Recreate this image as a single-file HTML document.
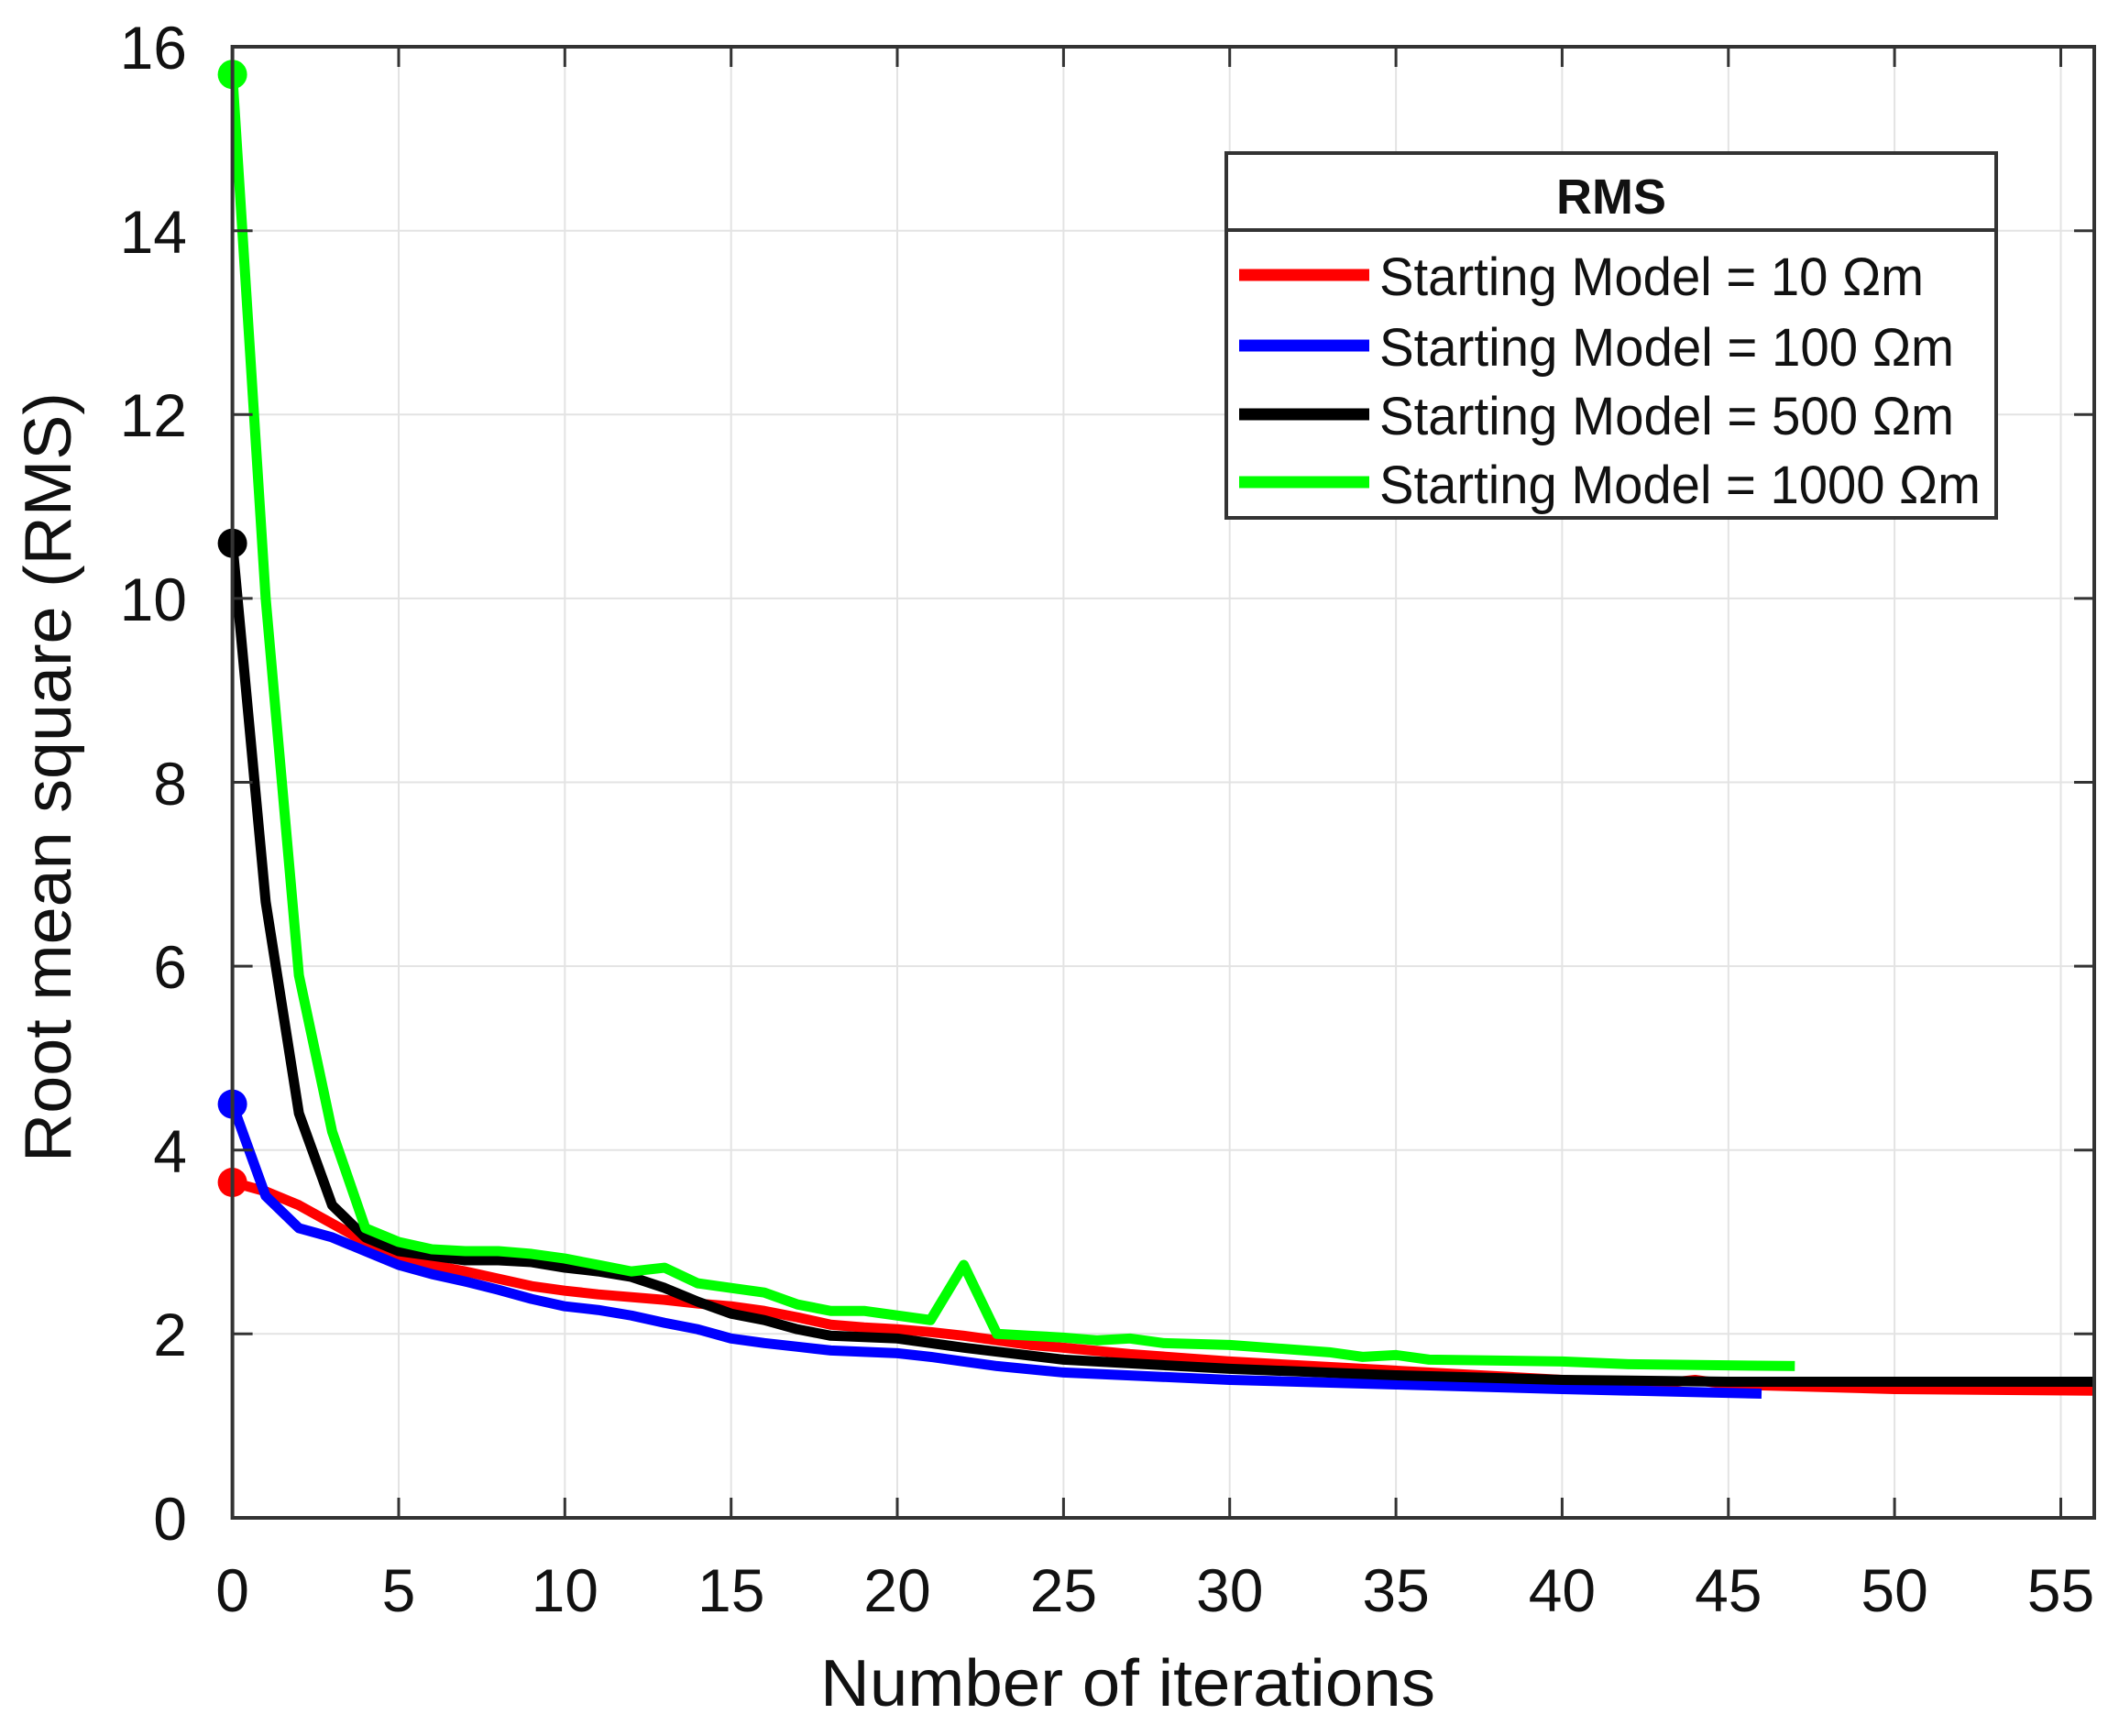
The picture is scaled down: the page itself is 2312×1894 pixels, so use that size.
<!DOCTYPE html>
<html><head><meta charset="utf-8"><style>html,body{margin:0;padding:0;background:#fff}svg{display:block}</style></head>
<body>
<svg width="2312" height="1894" viewBox="0 0 2312 1894" xmlns="http://www.w3.org/2000/svg" font-family="Liberation Sans, Arial, sans-serif">
<defs><clipPath id="c"><rect x="253.6" y="51" width="2031.4" height="1605"/></clipPath></defs>
<rect width="2312" height="1894" fill="#fff"/>
<g stroke="#e3e3e3" stroke-width="2">
<line x1="435" y1="51" x2="435" y2="1656"/><line x1="616.3" y1="51" x2="616.3" y2="1656"/><line x1="797.7" y1="51" x2="797.7" y2="1656"/><line x1="979" y1="51" x2="979" y2="1656"/><line x1="1160.4" y1="51" x2="1160.4" y2="1656"/><line x1="1341.7" y1="51" x2="1341.7" y2="1656"/><line x1="1523.1" y1="51" x2="1523.1" y2="1656"/><line x1="1704.4" y1="51" x2="1704.4" y2="1656"/><line x1="1885.8" y1="51" x2="1885.8" y2="1656"/><line x1="2067.1" y1="51" x2="2067.1" y2="1656"/><line x1="2248.5" y1="51" x2="2248.5" y2="1656"/>
<line x1="253.6" y1="1455.3" x2="2285" y2="1455.3"/><line x1="253.6" y1="1254.7" x2="2285" y2="1254.7"/><line x1="253.6" y1="1054.1" x2="2285" y2="1054.1"/><line x1="253.6" y1="853.5" x2="2285" y2="853.5"/><line x1="253.6" y1="652.9" x2="2285" y2="652.9"/><line x1="253.6" y1="452.3" x2="2285" y2="452.3"/><line x1="253.6" y1="251.7" x2="2285" y2="251.7"/>
</g>
<g clip-path="url(#c)" fill="none" stroke-width="11" stroke-linejoin="round">
<g transform="translate(253.6,1655.9) scale(36.27,-100.3)">
<polyline vector-effect="non-scaling-stroke" stroke="#ff0000" points="0,3.65 1,3.55 2,3.4 3,3.2 4,3.0 5,2.85 6,2.75 7,2.68 8,2.6 9,2.52 10,2.47 11,2.43 12,2.4 13,2.37 14,2.33 15,2.3 16,2.25 17,2.18 18,2.1 19,2.07 20,2.05 21,2.02 22,1.98 23,1.93 24,1.88 25,1.85 27,1.78 30,1.7 35,1.6 40,1.5 43,1.46 44,1.5 45,1.45 50,1.4 57,1.38"/>
<polyline vector-effect="non-scaling-stroke" stroke="#0000ff" points="0,4.5 1,3.5 2,3.15 3,3.05 4,2.9 5,2.75 6,2.65 7,2.57 8,2.48 9,2.38 10,2.3 11,2.26 12,2.2 13,2.12 14,2.05 15,1.95 16,1.9 17,1.86 18,1.82 20,1.79 21,1.75 22,1.7 23,1.65 25,1.58 30,1.5 35,1.45 40,1.4 46,1.35"/>
<polyline vector-effect="non-scaling-stroke" stroke="#000000" points="0,10.6 1,6.7 2,4.4 3,3.4 4,3.05 5,2.9 6,2.85 7,2.8 8,2.8 9,2.78 10,2.72 11,2.68 12,2.62 13,2.5 14,2.35 15,2.22 16,2.15 17,2.05 18,1.98 20,1.95 22,1.85 25,1.72 30,1.62 35,1.55 40,1.5 45,1.48 57,1.48"/>
<polyline vector-effect="non-scaling-stroke" stroke="#00ff00" points="0,15.7 1,10 2,5.9 3,4.2 4,3.15 5,3.0 6,2.92 7,2.9 8,2.9 9,2.87 10,2.82 11,2.75 12,2.68 13,2.72 14,2.55 15,2.5 16,2.45 17,2.32 18,2.25 19,2.25 20,2.2 21,2.15 22,2.75 23,2.0 24,1.98 25,1.96 26,1.93 27,1.95 28,1.9 30,1.88 33,1.8 34,1.75 35,1.77 36,1.72 40,1.7 42,1.67 47,1.65"/>
</g>
</g>
<circle cx="253.6" cy="1290" r="16" fill="#ff0000"/>
<circle cx="253.6" cy="1204.6" r="16" fill="#0000ff"/>
<circle cx="253.6" cy="592.7" r="16" fill="#000000"/>
<circle cx="253.6" cy="81.2" r="16" fill="#00ff00"/>
<rect x="253.6" y="51" width="2031.4" height="1605" fill="none" stroke="#333" stroke-width="4"/>
<g stroke="#333" stroke-width="3">
<path d="M435 1656v-22M616.3 1656v-22M797.7 1656v-22M979 1656v-22M1160.4 1656v-22M1341.7 1656v-22M1523.1 1656v-22M1704.4 1656v-22M1885.8 1656v-22M2067.1 1656v-22M2248.5 1656v-22"/>
<path d="M435 51v22M616.3 51v22M797.7 51v22M979 51v22M1160.4 51v22M1341.7 51v22M1523.1 51v22M1704.4 51v22M1885.8 51v22M2067.1 51v22M2248.5 51v22"/>
<path d="M253.6 1455.3h22M253.6 1254.7h22M253.6 1054.1h22M253.6 853.5h22M253.6 652.9h22M253.6 452.3h22M253.6 251.7h22"/>
<path d="M2285 1455.3h-22M2285 1254.7h-22M2285 1054.1h-22M2285 853.5h-22M2285 652.9h-22M2285 452.3h-22M2285 251.7h-22"/>
</g>
<g font-size="66" fill="#111" text-anchor="middle" font-family="Liberation Sans Narrow, Liberation Sans, sans-serif">
<text x="253.6" y="1758">0</text><text x="435" y="1758">5</text><text x="616.3" y="1758">10</text><text x="797.7" y="1758">15</text><text x="979" y="1758">20</text><text x="1160.4" y="1758">25</text><text x="1341.7" y="1758">30</text><text x="1523.1" y="1758">35</text><text x="1704.4" y="1758">40</text><text x="1885.8" y="1758">45</text><text x="2067.1" y="1758">50</text><text x="2248.5" y="1758">55</text>
</g>
<g font-size="66" fill="#111" text-anchor="end" font-family="Liberation Sans Narrow, Liberation Sans, sans-serif">
<text x="204" y="1680">0</text><text x="204" y="1479">2</text><text x="204" y="1279">4</text><text x="204" y="1078">6</text><text x="204" y="878">8</text><text x="204" y="677">10</text><text x="204" y="476">12</text><text x="204" y="276">14</text><text x="204" y="75">16</text>
</g>
<text x="895" y="1861" font-size="72" fill="#111" textLength="671" lengthAdjust="spacingAndGlyphs">Number of iterations</text>
<text transform="translate(77,848) rotate(-90)" x="-420" y="0" font-size="72" fill="#111" textLength="840" lengthAdjust="spacingAndGlyphs">Root mean square (RMS)</text>
<rect x="1338" y="167" width="840" height="398" fill="#fff" stroke="#333" stroke-width="4"/>
<line x1="1338" y1="251" x2="2178" y2="251" stroke="#333" stroke-width="4"/>
<text x="1758" y="233" font-size="54" font-weight="bold" text-anchor="middle" fill="#111">RMS</text>
<g stroke-width="13">
<line x1="1352" y1="300" x2="1494" y2="300" stroke="#ff0000"/>
<line x1="1352" y1="377" x2="1494" y2="377" stroke="#0000ff"/>
<line x1="1352" y1="452" x2="1494" y2="452" stroke="#000000"/>
<line x1="1352" y1="526" x2="1494" y2="526" stroke="#00ff00"/>
</g>
<g font-size="58" fill="#111">
<text x="1505" y="322" textLength="594" lengthAdjust="spacingAndGlyphs">Starting Model = 10 Ωm</text>
<text x="1505" y="399" textLength="627" lengthAdjust="spacingAndGlyphs">Starting Model = 100 Ωm</text>
<text x="1505" y="474" textLength="627" lengthAdjust="spacingAndGlyphs">Starting Model = 500 Ωm</text>
<text x="1505" y="549" textLength="656" lengthAdjust="spacingAndGlyphs">Starting Model = 1000 Ωm</text>
</g>
</svg>
</body></html>
